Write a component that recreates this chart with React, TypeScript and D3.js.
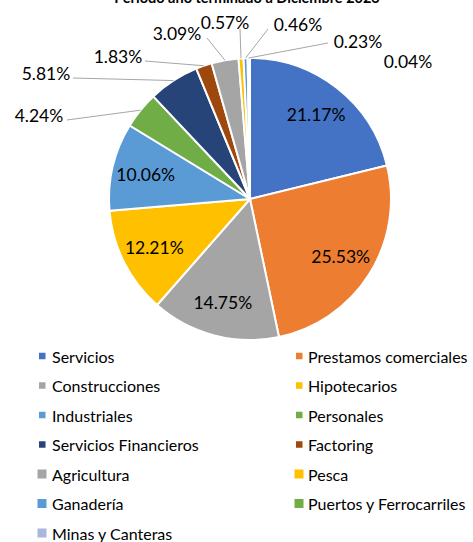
import React from "react";
import * as d3 from "d3";

const title = "Período año terminado a Diciembre 2023";
const categories = [
  "Servicios",
  "Prestamos comerciales",
  "Construcciones",
  "Hipotecarios",
  "Industriales",
  "Personales",
  "Servicios Financieros",
  "Factoring",
  "Agricultura",
  "Pesca",
  "Ganadería",
  "Puertos y Ferrocarriles",
  "Minas y Canteras",
];
const values = [21.17, 25.53, 14.75, 12.21, 10.06, 4.24, 5.81, 1.83, 3.09, 0.57, 0.46, 0.23, 0.04];
const colors = [
  "#4472C4", "#ED7D31", "#A5A5A5", "#FFC000", "#5B9BD5", "#70AD47",
  "#264478", "#9E480E", "#A5A5A5", "#FFC000", "#5B9BD5", "#70AD47", "#A9B7DE",
];
// label layout for the small slices drawn outside the pie (centre of text, leader start)
const outsideLayout: Record<number, { x: number; y: number; sx?: number; sy?: number }> = {
  5: { x: 39, y: 115, sx: 67, sy: 120 },
  6: { x: 46, y: 73, sx: 73, sy: 78 },
  7: { x: 118, y: 56, sx: 145, sy: 61 },
  8: { x: 177, y: 33, sx: 207, sy: 38 },
  9: { x: 225, y: 22, sx: 240, sy: 29 },
  10: { x: 298, y: 24, sx: 268, sy: 29 },
  11: { x: 358, y: 41, sx: 328, sy: 43 },
  12: { x: 408, y: 61 },
};

const W = 473;
const H = 542;
const cx = 250;
const cy = 199;
const R = 141;
const FONT = "Lato, 'Noto Sans', sans-serif";

export default function App() {
  const pie = d3.pie<number>().sort(null).value((d) => d).startAngle(0).endAngle(2 * Math.PI);
  const arcs = pie(values);
  const arc = d3.arc<d3.PieArcDatum<number>>().innerRadius(0).outerRadius(R);
  const labelArc = d3.arc<d3.PieArcDatum<number>>().innerRadius(R * 0.76).outerRadius(R * 0.76);

  const fmt = (v: number) => v.toFixed(2) + "%";

  const legendY = d3.scaleLinear().domain([0, 6]).range([356, 533]);

  return (
    <svg width={W} height={H} style={{ position: "absolute", left: 0, top: 0, background: "#fff" }} fontFamily={FONT}>
      <rect width={W} height={H} fill="#fff" />
      <text x={247} y={3} textAnchor="middle" fontWeight="bold" fontSize={14.5} fill="#000">
        {title}
      </text>
      <g transform={`translate(${cx},${cy})`}>
        {arcs.map((a, i) => (
          <path key={i} d={arc(a) || ""} fill={colors[i]} stroke="#fff" strokeWidth={2} strokeLinejoin="round" />
        ))}
      </g>
      {/* leader lines */}
      {arcs.map((a, i) => {
        const lay = outsideLayout[i];
        if (!lay || lay.sx === undefined) return null;
        const mid = (a.startAngle + a.endAngle) / 2;
        const ex = cx + R * Math.sin(mid);
        const ey = cy - R * Math.cos(mid);
        return <line key={"l" + i} x1={lay.sx} y1={lay.sy} x2={ex} y2={ey} stroke="#A6A6A6" strokeWidth={1} />;
      })}
      {/* labels */}
      {arcs.map((a, i) => {
        const lay = outsideLayout[i];
        if (lay) {
          return (
            <text key={"t" + i} x={lay.x} y={lay.y} textAnchor="middle" dominantBaseline="central" fontSize={17.5} fill="#000">
              {fmt(values[i])}
            </text>
          );
        }
        const [lx, ly] = labelArc.centroid(a);
        return (
          <text key={"t" + i} x={cx + lx} y={cy + ly} textAnchor="middle" dominantBaseline="central" fontSize={17.5} fill="#000">
            {fmt(values[i])}
          </text>
        );
      })}
      {/* legend */}
      {categories.map((c, i) => {
        const col = i % 2;
        const row = Math.floor(i / 2);
        const y = legendY(row);
        const big = i >= 8;
        const s = big ? 9 : 6.5;
        const mx = col === 0 ? (big ? 37.5 : 39) : big ? 294.5 : 296;
        const tx = col === 0 ? 52 : 308;
        return (
          <g key={"g" + i}>
            <rect x={mx} y={y - s / 2} width={s} height={s} fill={colors[i]} />
            <text x={tx} y={y} dominantBaseline="central" fontSize={16} fill="#000">
              {c}
            </text>
          </g>
        );
      })}
    </svg>
  );
}
